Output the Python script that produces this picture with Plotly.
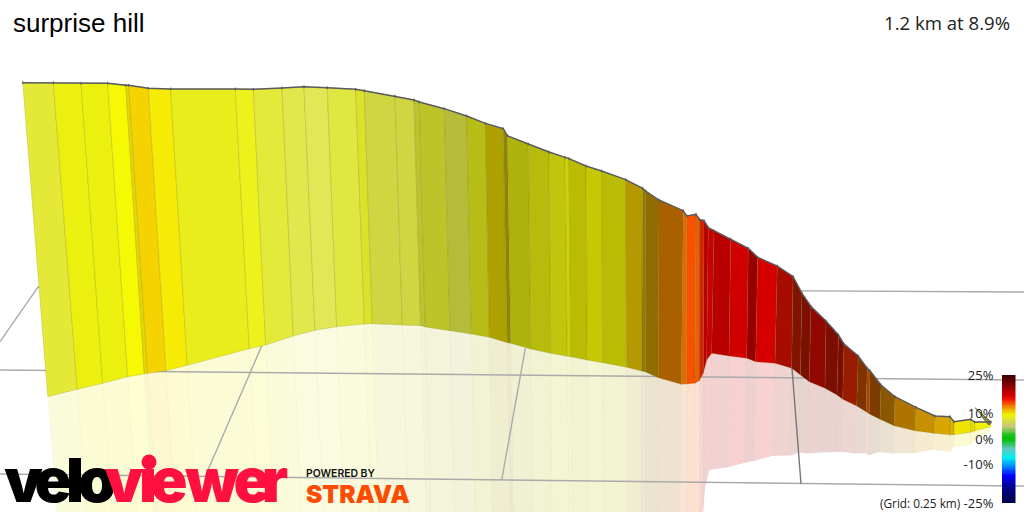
import plotly.graph_objects as go

# Climb profile: wall stations along the route, on a 1024x512 drawing plane
ridge_x = [22.7,53.3,81,107.7,125.7,128.7,148.3,170.7,235.3,253.3,282,304,327.3,355.7,364.3,395,414,419.3,444.3,466.7,485.3,503.3,507.3,528.3,549,565,569,586,601.7,625.7,642.7,645.7,659,683.3,686.7,696,699.3,704,708.3,714,730.7,748.3,757.7,777.3,793,802,811,826,838.5,844,858.3,867.3,870,881,895,916,935,950,954,970.7,974.5,991]
ridge_y = [82.7,82.7,83.3,83.3,85.3,85.3,88.3,89,89,89.3,88,86.7,87.7,89.3,90.7,96,100,102,108.7,116,123.3,128.7,135.7,144,152,157.3,158.7,166,171,179.7,188.3,191,200,210.7,216,214.3,219.3,220.7,227.7,230.7,239,248.3,257.3,266,276.5,293.3,306.5,321,335,344,356,368.3,370.7,385,396.7,407.3,416,416.7,421.7,419.3,422,422]
foot_x = [47.7,77.3,102.7,127.7,144.3,147.7,166,187.3,249.3,265.7,293.3,315,336.7,364.3,372.3,402.3,420.7,425.3,450,471.3,489.3,507.3,510.7,530.7,550.7,567.3,570.7,587.3,602.7,626.7,641.7,645.7,658.3,681.3,686.7,695,699.3,703.3,706.7,711.7,729,746.7,755.7,775,791.7,800.4,809.2,825,837,842.7,856.7,866,869.3,880,894,915,934,950,954,970.7,975,990.7]
foot_y = [396.7,389.3,383.3,376.7,374,373.3,370.7,365.3,348.7,345,336,330.3,326.7,324,323.7,325,325.7,327,330.7,334,337.3,342.7,343.3,349,353.3,356.3,356.7,360,362.7,367.3,371,372,377.7,384.3,384,383.3,380.7,373.3,360,353.3,356,358.3,361.7,363.3,368.3,375,381.7,388.3,395,399.3,406,411.7,414,419.3,425.7,430.7,433.3,434.7,434.7,432.3,430.7,426.7]

# Gradient (%) of each wall panel and how much light that panel catches
panel_gradient = [7.6,9,9,9.4,10,10.5,9.8,8.5,8.5,7.5,6.8,6.5,7.2,8,7,7,7.5,7.7,7,8.5,10,10,9,9,9,9.4,9.4,9.4,9.4,10.6,10.6,11.3,12.6,12.9,13.8,13.3,15,17,17,17,17,17,17,15.8,14.9,15.3,16,15.5,15.5,14.6,13.4,13.5,13,12.2,12,11.5,11.2,10.9,9.9,9.9,9.5]
panel_light = [1.03,1,1,1.02,.96,1.02,1.02,1.01,1.03,1.04,1.06,1.07,1.04,.98,.97,.97,.86,.86,.85,.8,.72,.6,.74,.78,.82,.86,.77,.82,.77,.75,.6,.6,.71,.91,1.01,.95,.89,.86,.94,.86,.97,.71,1,.72,.53,.52,.63,.53,.53,.62,.52,.72,.51,.58,.73,.83,.9,.9,1,.97,1]

# Road doubling back at the finish
tail_x = [975,991,989,982]
tail_y = [407.7,422,425,417]

# Ground grid: one row per line, from the far end to the near end
grid_x = [[0,38.3],[0,1024],[38,1024],[0,1024],[261.7,205],[525.3,501.7],[792,801]]
grid_y = [[341.7,286.7],[370,380],[287,292],[474,486],[346,477],[348.3,480],[368,484]]
grid_colour = ["#aaaaaa"]*6 + ["#777777"]

legend_ticks = [25,10,0,-10,-25]
legend_labels = ["25%","10%","0%","-10%","-25%"]
legend_levels = [v/2 for v in range(-50,51)]

# Gradient to colour ramp
ramp = [(-25,"#000050"),(-23,"#000058"),(-18,"#0000a0"),(-14.5,"#0000ff"),(-10.5,"#0090ff"),(-7.3,"#00f0f0"),(-4,"#60c8c0"),(0,"#00c000"),(1.5,"#20c020"),(4.8,"#c8c878"),(7,"#d6dc44"),(9.4,"#f0f404"),(12.4,"#f09000"),(14.5,"#f83000"),(16.5,"#e00000"),(19,"#b00000"),(22,"#700000"),(25,"#3a0000")]
colorscale = [[(v+25)/50, c] for v, c in ramp]

def rgb(hexcode):
    return tuple(int(hexcode[i:i+2],16) for i in (1,3,5))

def gradient_rgb(g, light=1.0):
    for (a,ca),(b,cb) in zip(ramp, ramp[1:]):
        if a <= g <= b:
            t = (g-a)/(b-a)
            return tuple(min(255,round((x+(y-x)*t)*light)) for x,y in zip(rgb(ca),rgb(cb)))
    return rgb(ramp[-1][1])

fig = go.Figure()
MIRROR = 0.95

# Pale reflection on the ground
for i,(g,l) in enumerate(zip(panel_gradient,panel_light)):
    r,gg,b = gradient_rgb(g,l)
    mx = [f+MIRROR*(f-t) for f,t in zip(foot_x[i:i+2],ridge_x[i:i+2])]
    my = [f+MIRROR*(f-t) for f,t in zip(foot_y[i:i+2],ridge_y[i:i+2])]
    fig.add_trace(go.Scatter(
        x=[foot_x[i],foot_x[i+1],mx[1],mx[0],foot_x[i]],
        y=[foot_y[i],foot_y[i+1],my[1],my[0],foot_y[i]],
        mode="lines",fill="toself",fillcolor=f"rgba({r},{gg},{b},0.18)",
        line=dict(width=0.5,color="rgba(130,130,130,0.06)"),hoverinfo="skip"))

for xs,ys,c in zip(grid_x,grid_y,grid_colour):
    fig.add_trace(go.Scatter(x=xs,y=ys,mode="lines",line=dict(color=c,width=1.4),hoverinfo="skip"))

# Coloured wall
for i,(g,l) in enumerate(zip(panel_gradient,panel_light)):
    r,gg,b = gradient_rgb(g,l)
    fig.add_trace(go.Scatter(
        x=[ridge_x[i],ridge_x[i+1],foot_x[i+1],foot_x[i],ridge_x[i]],
        y=[ridge_y[i],ridge_y[i+1],foot_y[i+1],foot_y[i],ridge_y[i]],
        mode="lines",fill="toself",fillcolor=f"rgb({r},{gg},{b})",
        line=dict(width=0.9,color="rgba(110,110,0,0.22)"),hoverinfo="skip"))

fig.add_trace(go.Scatter(x=tail_x,y=tail_y,mode="lines",fill="toself",fillcolor="#8f8f30",
                         line=dict(width=1,color="#555555"),hoverinfo="skip"))
fig.add_trace(go.Scatter(x=ridge_x,y=ridge_y,mode="lines+markers",
                         line=dict(color="#5a5a60",width=1.4),
                         marker=dict(symbol="line-ns",size=2,line=dict(width=1,color="#555555")),
                         hoverinfo="skip"))

# Logo lettering, one glyph at a time so the letters can overlap
logo_letters = ["v","e","l","o","v","ı","e","w","e","r"]
logo_x = [23.5,53,75,97,124,148,169,212,252,275]
logo_colour = ["#000000"]*4 + ["#ff1040"]*6
logo_y = [487]*10
fig.add_trace(go.Scatter(x=logo_x,y=logo_y,text=logo_letters,mode="text",textposition="middle center",
                         textfont=dict(family="Inter",size=61,weight=900,color=logo_colour),hoverinfo="skip"))
fig.add_trace(go.Scatter(x=[149],y=[462],mode="markers",marker=dict(size=15,color="#ff1040"),hoverinfo="skip"))

# Gradient legend as a small heatmap on its own axes
fig.add_trace(go.Heatmap(x=[0],y=legend_levels,z=[[v] for v in legend_levels],zmin=-25,zmax=25,
                         colorscale=colorscale,showscale=False,xaxis="x2",yaxis="y2",hoverinfo="skip"))

def note(text,x,y,size,anchor="left",color="#111111",family="Liberation Sans",weight=400):
    fig.add_annotation(text=text,x=x,y=y,xref="x",yref="y",xanchor=anchor,yanchor="middle",showarrow=False,
                       font=dict(size=size,color=color,family=family,weight=weight),borderpad=0,align=anchor)

note("surprise hill",12,23,26,color="#000000")
note("1.2 km at 8.9%",1011,22,18.6,anchor="right",family="Open Sans",color="#222222")
note("(Grid: 0.25 km)",961,503,11.8,anchor="right",family="Open Sans",color="#222222")
note("POWERED BY",304.5,473,10.4,family="Inter",weight=600,color="#111111")
note("STRAVA",305,494,24.5,family="Inter",weight=900,color="#fc4c02")

fig.update_layout(
    width=1024,height=512,margin=dict(l=0,r=0,t=0,b=0),showlegend=False,
    paper_bgcolor="white",plot_bgcolor="rgba(0,0,0,0)",
    xaxis=dict(range=[0,1024],domain=[0,1],visible=False,fixedrange=True,automargin=False),
    yaxis=dict(range=[512,0],domain=[0,1],visible=False,fixedrange=True,automargin=False),
    xaxis2=dict(domain=[1002/1024,1015.5/1024],anchor="y2",visible=False,range=[-0.5,0.5],fixedrange=True,automargin=False),
    yaxis2=dict(domain=[9/512,137/512],anchor="x2",range=[-25,25],tickvals=legend_ticks,ticktext=legend_labels,
                ticks="outside",ticklen=5,tickcolor="rgba(0,0,0,0)",showgrid=False,zeroline=False,showline=False,
                automargin=False,tickfont=dict(family="Open Sans",size=13,color="#222222"),fixedrange=True),
)
fig.write_html("out.html",config={"displayModeBar":False})
